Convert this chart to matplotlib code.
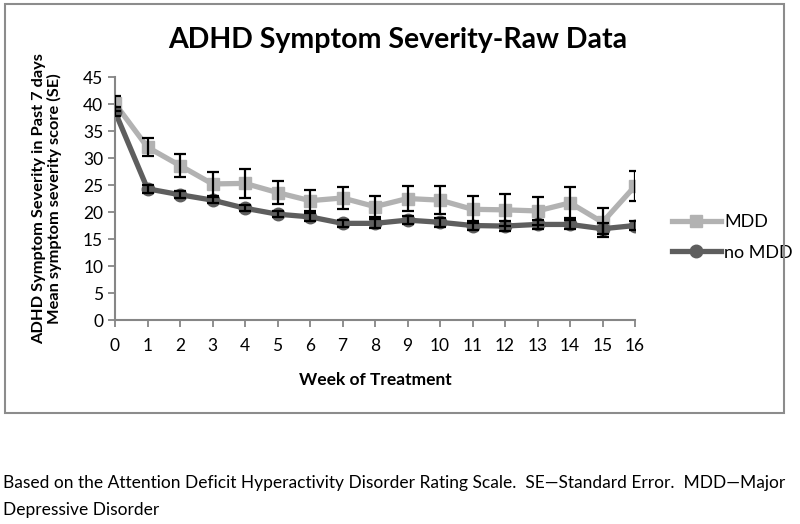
import matplotlib.pyplot as plt
from matplotlib.patches import Rectangle

weeks = list(range(17))
mdd = [40.1, 32.0, 28.6, 25.2, 25.3, 23.6, 22.1, 22.6, 21.0, 22.5, 22.2, 20.5, 20.4, 20.2, 21.7, 18.1, 24.8]
mdd_se = [1.4, 1.7, 2.1, 2.2, 2.7, 2.2, 2.0, 2.0, 2.0, 2.4, 2.6, 2.5, 2.9, 2.6, 2.9, 2.7, 2.8]
no_mdd = [38.6, 24.3, 23.2, 22.2, 20.7, 19.6, 19.1, 17.9, 17.9, 18.5, 18.1, 17.5, 17.4, 17.7, 17.7, 16.9, 17.5]
no_mdd_se = [0.8, 0.7, 0.6, 0.6, 0.6, 0.6, 0.7, 0.7, 0.8, 0.8, 0.8, 0.8, 0.9, 0.8, 0.8, 1.0, 0.9]

plt.rcParams['font.family'] = ['Lato', 'DejaVu Sans']

fig = plt.figure(figsize=(8, 5.24), dpi=100)
ax = fig.add_axes([0.14375, 0.3893, 0.65, 0.4637])

grey = '#868686'

# chart frame
fig.patches.append(Rectangle((5/800, 1-413/524), 779/800, 409/524, transform=fig.transFigure,
                             fill=False, edgecolor='#8c8c8c', lw=1.5))

ax.errorbar(weeks, mdd, yerr=mdd_se, fmt='none', ecolor='black', elinewidth=1.6, capsize=4, capthick=1.6, zorder=3)
ax.errorbar(weeks, no_mdd, yerr=no_mdd_se, fmt='none', ecolor='black', elinewidth=1.6, capsize=4, capthick=1.6, zorder=3)
ax.plot(weeks, mdd, color='#b2b2b2', lw=3.8, marker='s', ms=9, label='MDD', zorder=2)
ax.plot(weeks, no_mdd, color='#5e5e5e', lw=3.8, marker='o', ms=9, label='no MDD', zorder=2)

ax.set_xlim(0, 16)
ax.set_ylim(0, 45)
ax.set_xticks(weeks)
ax.set_yticks(range(0, 46, 5))
ax.tick_params(axis='both', colors=grey, labelcolor='black', labelsize=12.5, length=5, width=1.3)
ax.tick_params(axis='x', pad=8)
for side in ['top', 'right']:
    ax.spines[side].set_visible(False)
for side in ['left', 'bottom']:
    ax.spines[side].set_color(grey)
    ax.spines[side].set_linewidth(1.5)

ax.set_xlabel('Week of Treatment', fontsize=12.5, fontweight='bold', labelpad=13)
ax.set_ylabel('ADHD Symptom Severity in Past 7 days\nMean symptom severity score (SE)',
              fontsize=11.8, fontweight='bold', labelpad=15, linespacing=1.05)
fig.text(0.497, 1-40/524, 'ADHD Symptom Severity-Raw Data', ha='center', va='center',
         fontsize=20.5, fontweight='bold')

ax.legend(loc='center left', bbox_to_anchor=(1.04, 0.34), frameon=False, fontsize=13,
          handlelength=2.7, labelspacing=0.8, handletextpad=0.2)

fig.text(0.004, 1-483/524, 'Based on the Attention Deficit Hyperactivity Disorder Rating Scale.  SE\u2014Standard Error.  MDD\u2014Major',
         ha='left', va='center', fontsize=12.5)
fig.text(0.004, 1-510/524, 'Depressive Disorder', ha='left', va='center', fontsize=12.5)

fig.savefig('out.png', dpi=100)
